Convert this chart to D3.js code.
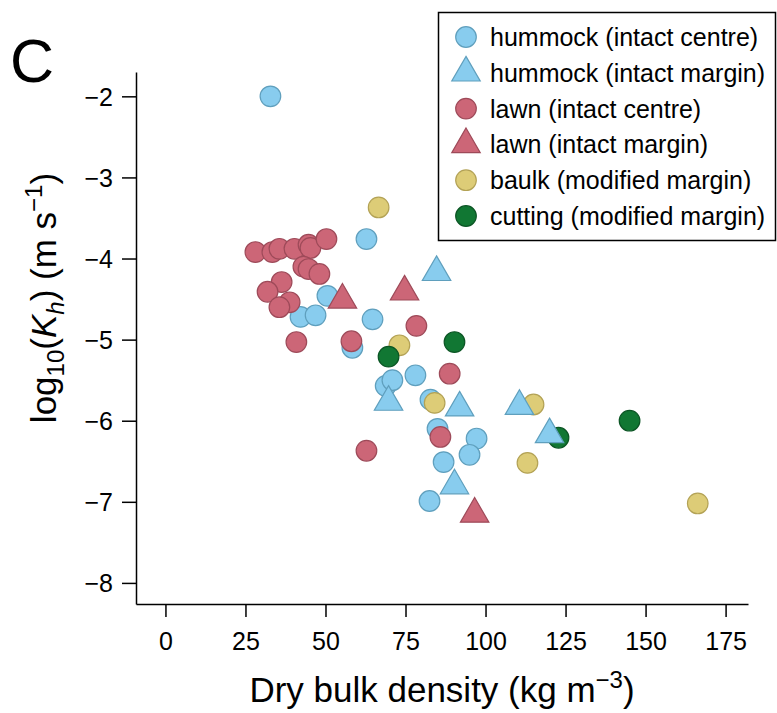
<!DOCTYPE html>
<html>
<head>
<meta charset="utf-8">
<script src="https://cdn.jsdelivr.net/npm/d3@7"></script>
<style>
  body { margin: 0; background: #fff; }
  text { font-family: "Liberation Sans", Arial, sans-serif; fill: #000; }
</style>
</head>
<body>
<svg id="chart" width="777" height="713"></svg>
<script>
// groups: label, marker shape, fill, stroke
var groups = [
  {key: "hc", label: "hummock (intact centre)", shape: "circle", fill: "#88CCEE", stroke: "#5f9fbd"},
  {key: "hm", label: "hummock (intact margin)", shape: "triangle", fill: "#88CCEE", stroke: "#5f9fbd"},
  {key: "lc", label: "lawn (intact centre)", shape: "circle", fill: "#CC6677", stroke: "#9e4a59"},
  {key: "lm", label: "lawn (intact margin)", shape: "triangle", fill: "#CC6677", stroke: "#9e4a59"},
  {key: "bk", label: "baulk (modified margin)", shape: "circle", fill: "#DDCC77", stroke: "#b3a255"},
  {key: "ct", label: "cutting (modified margin)", shape: "circle", fill: "#117733", stroke: "#0b5524"}
];

// [dry bulk density, log10 Kh]
var hummockCentre = [
  [32.8, -2.00], [62.8, -3.76], [50.6, -4.46], [42.2, -4.72], [46.9, -4.70],
  [64.7, -4.75], [58.4, -5.10], [68.8, -5.57], [70.9, -5.50], [78.1, -5.44],
  [82.8, -5.74], [85.0, -6.10], [97.2, -6.22], [95.0, -6.42], [86.9, -6.51],
  [82.5, -6.99]
];
var hummockMargin = [
  [84.7, -4.17], [69.7, -5.77], [91.9, -5.84], [110.6, -5.82], [90.3, -6.80], [120.0, -6.17]
];
var lawnCentre = [
  [28.1, -3.92], [33.4, -3.92], [35.6, -3.88], [40.3, -3.88], [44.7, -3.83],
  [45.3, -3.87], [50.3, -3.76], [43.1, -4.10], [44.7, -4.13], [48.1, -4.19],
  [36.3, -4.29], [31.9, -4.41], [38.8, -4.54], [35.6, -4.60], [40.9, -5.03],
  [58.1, -5.02], [78.4, -4.83], [88.8, -5.42], [85.9, -6.20], [62.8, -6.37]
];
var lawnMargin = [
  [55.3, -4.51], [74.7, -4.41], [96.6, -7.15]
];
var baulk = [
  [66.6, -3.37], [73.1, -5.07], [84.1, -5.78], [115.0, -5.80], [113.1, -6.52], [166.3, -7.02]
];
var cutting = [
  [69.7, -5.21], [90.3, -5.03], [122.8, -6.21], [145.0, -6.00]
];

var xTicks = [0, 25, 50, 75, 100, 125, 150, 175];
var yTicks = [-2, -3, -4, -5, -6, -7, -8];

var series = {hc: hummockCentre, hm: hummockMargin, lc: lawnCentre, lm: lawnMargin, bk: baulk, ct: cutting};
var drawOrder = ["hc", "lc", "bk", "ct", "lm", "hm"];

var svg = d3.select("#chart");

var x = d3.scaleLinear().domain([-9.2, 182]).range([136, 748]);
var y = d3.scaleLinear().domain([-1.7, -8.26]).range([72, 604]);

var circleSym = d3.symbol().type(d3.symbolCircle).size(Math.PI * 10.3 * 10.3);
var triSym = d3.symbol().type(d3.symbolTriangle).size(350);

// axes
var xAxis = svg.append("g")
    .attr("transform", "translate(0,604)")
    .call(d3.axisBottom(x).tickValues(xTicks).tickSize(13).tickPadding(15).tickSizeOuter(0));
var yAxis = svg.append("g")
    .attr("transform", "translate(136,0)")
    .call(d3.axisLeft(y).tickValues(yTicks).tickSize(14).tickPadding(9).tickSizeOuter(0)
      .tickFormat(function(d) { return "\u2212" + Math.abs(d); }));

[xAxis, yAxis].forEach(function(a) {
  a.select(".domain").attr("stroke", "#000").attr("stroke-width", 1.5);
  a.selectAll(".tick line").attr("stroke", "#000").attr("stroke-width", 1.5);
  a.selectAll(".tick text").attr("font-size", 25).attr("font-family", "Liberation Sans, Arial, sans-serif").attr("fill", "#000");
});
yAxis.selectAll(".tick text").attr("dy", "0.36em");

// points
drawOrder.forEach(function(k) {
  var g = groups.find(function(d) { return d.key == k; });
  svg.append("g").selectAll("path")
    .data(series[k])
    .enter().append("path")
      .attr("d", g.shape == "circle" ? circleSym() : triSym())
      .attr("transform", function(d) {
        return "translate(" + x(d[0]) + "," + y(d[1]) + ")";
      })
      .attr("fill", g.fill)
      .attr("stroke", g.stroke)
      .attr("stroke-width", 1.2);
});

// legend
var legend = svg.append("g");
legend.append("rect")
    .attr("x", 438.5).attr("y", 12.5)
    .attr("width", 337).attr("height", 228)
    .attr("fill", "#fff").attr("stroke", "#000").attr("stroke-width", 1.5);

var item = legend.selectAll(".item")
    .data(groups)
    .enter().append("g")
      .attr("class", "item")
      .attr("transform", function(d, i) { return "translate(466," + (37 + i * 35.8) + ")"; });

item.append("path")
    .attr("d", function(d) { return d.shape == "circle" ? circleSym() : triSym(); })
    .attr("fill", function(d) { return d.fill; })
    .attr("stroke", function(d) { return d.stroke; })
    .attr("stroke-width", 1.2);

item.append("text")
    .attr("x", 24)
    .attr("dy", "0.36em")
    .attr("font-size", 25)
    .text(function(d) { return d.label; });

// panel letter
svg.append("text")
    .attr("x", 10).attr("y", 82)
    .attr("font-size", 61)
    .text("C");

// x title
var xt = svg.append("text")
    .attr("x", 442).attr("y", 702)
    .attr("text-anchor", "middle")
    .attr("font-size", 35);
xt.append("tspan").text("Dry bulk density (kg m");
xt.append("tspan").attr("dy", -14).attr("font-size", 24).text("\u22123");
xt.append("tspan").attr("dy", 14).text(")");

// y title
var yt = svg.append("text")
    .attr("transform", "translate(56,298) rotate(-90)")
    .attr("text-anchor", "middle")
    .attr("font-size", 35);
yt.append("tspan").text("log");
yt.append("tspan").attr("dy", 8).attr("font-size", 24).text("10");
yt.append("tspan").attr("dy", -8).text("(");
yt.append("tspan").attr("font-style", "italic").text("K");
yt.append("tspan").attr("dy", 8).attr("font-size", 24).attr("font-style", "italic").text("h");
yt.append("tspan").attr("dy", -8).text(") (m s");
yt.append("tspan").attr("dy", -14).attr("font-size", 24).text("\u22121");
yt.append("tspan").attr("dy", 14).text(")");
</script>
</body>
</html>
